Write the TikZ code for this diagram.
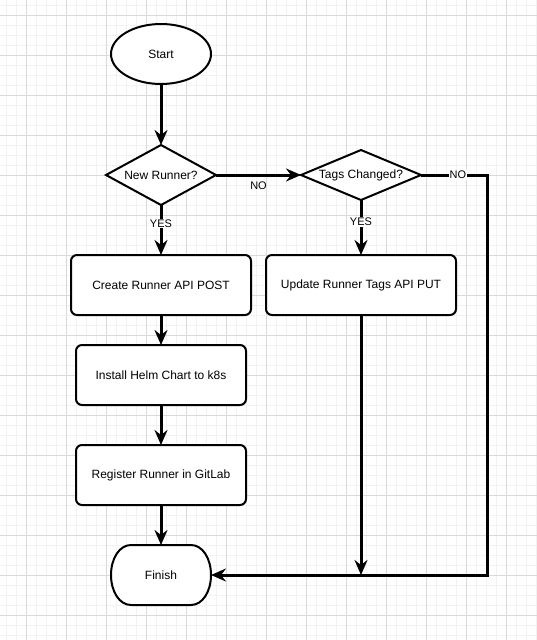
\documentclass[tikz,border=0pt]{standalone}
\usepackage{fontspec}
\setmainfont{Liberation Sans}
\usetikzlibrary{shapes.geometric,arrows.meta}
\definecolor{gridminor}{HTML}{F2F2F2}
\definecolor{gridmajor}{HTML}{DADADA}
\begin{document}
\begin{tikzpicture}[x=1pt,y=-1pt,
  every node/.style={font=\fontsize{12}{14}\selectfont, inner sep=0pt, outer sep=0pt},
  shape line/.style={draw=black, line width=2pt, fill=white},
  terminal/.style={shape line, ellipse, minimum width=100pt, minimum height=60pt},
  decision/.style={shape line, diamond, aspect=2.4},
  process/.style={shape line, rectangle, rounded corners=6pt, minimum height=60pt},
  flow/.style={line width=3pt, -{Stealth[length=15pt,width=13pt,inset=5pt]}},
  edgelabel/.style={font=\fontsize{11}{13}\selectfont, fill=white, inner sep=1pt}
]
% canvas and grid
\path[use as bounding box] (0,0) rectangle (537,640);
\fill[white] (0,0) rectangle (537,640);
\begin{scope}
\clip (0,0) rectangle (537,640);
\foreach \i in {0,...,53} \draw[gridminor, line width=1pt] ({6.7+10*\i},0) -- ({6.7+10*\i},640);
\foreach \j in {0,...,63} \draw[gridminor, line width=1pt] (0,{5+10*\j}) -- (537,{5+10*\j});
\foreach \i in {0,...,13} \draw[gridmajor, line width=1pt] ({26.7+40*\i},0) -- ({26.7+40*\i},640);
\foreach \j in {0,...,15} \draw[gridmajor, line width=1pt] (0,{15+40*\j}) -- (537,{15+40*\j});
\end{scope}

% steps
\node[terminal] (start) at (161,54) {Start};
\node[decision, minimum width=110pt, minimum height=60pt] (newr) at (161,175) {New Runner?};
\node[decision, minimum width=120pt, minimum height=50pt] (tags) at (361,175) {Tags Changed?};
\node[process, minimum width=180pt] (create) at (161,285) {Create Runner API POST};
\node[process, minimum width=190pt] (update) at (361,285) {Update Runner Tags API PUT};
\node[process, minimum width=170pt] (install) at (161,375) {Install Helm Chart to k8s};
\node[process, minimum width=170pt] (register) at (161,475) {Register Runner in GitLab};

% terminator outline for the end step
\draw[shape line] (131,545) -- (191,545)
  .. controls (202.5,545) and (211,558.4) .. (211,575)
  .. controls (211,591.6) and (202.5,605) .. (191,605) -- (131,605)
  .. controls (119.5,605) and (111,591.6) .. (111,575)
  .. controls (111,558.4) and (119.5,545) .. (131,545) -- cycle;
\node[minimum width=100pt, minimum height=60pt] (finish) at (161,575) {Finish};

\coordinate (nocorner) at (487,575);
\coordinate (join) at (361,575);

% connectors
\draw[flow] (start) -- (newr);
\draw[flow] (newr) -- node[edgelabel, fill=none, below=6pt] {NO} (tags);
\draw[flow] (newr) -- node[edgelabel, pos=0.37] {YES} (create);
\draw[flow] (tags) -- node[edgelabel, pos=0.4] {YES} (update);
\draw[flow] (create) -- (install);
\draw[flow] (install) -- (register);
\draw[flow] (register) -- (finish);
\draw[flow] (update) -- (join);
\draw[flow] (tags.east) -- node[edgelabel, pos=0.56] {NO} (tags.east -| nocorner) -- (nocorner) -- (finish.east);
\end{tikzpicture}
\end{document}
